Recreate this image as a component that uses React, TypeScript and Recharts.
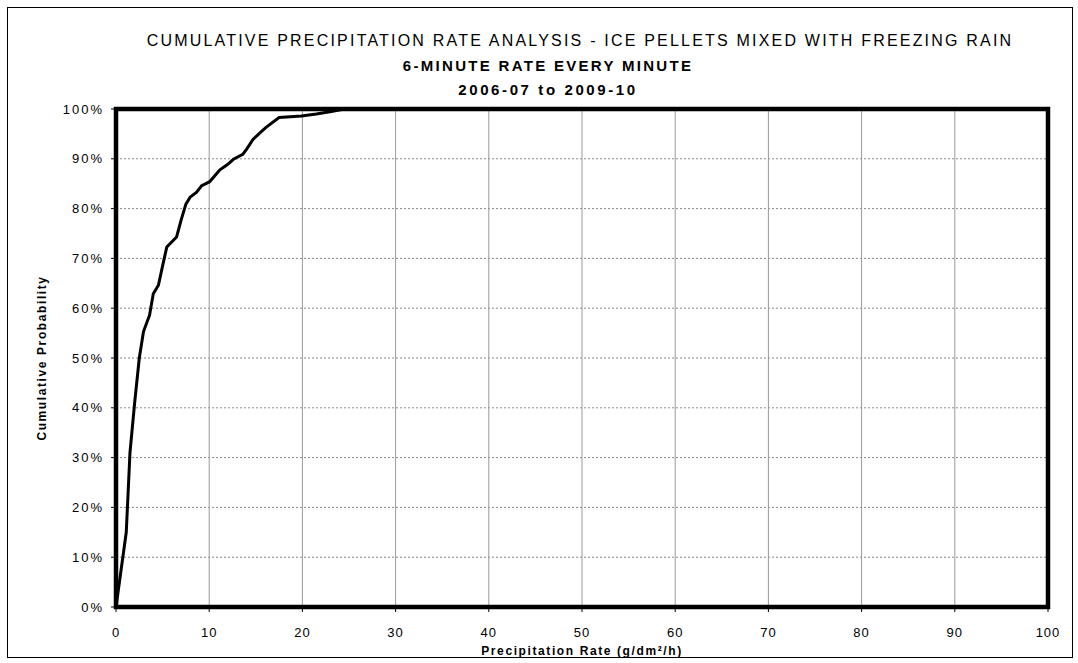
import React from "react";
import {
  LineChart,
  Line,
  XAxis,
  YAxis,
  CartesianGrid,
  ReferenceArea,
} from "recharts";

const titleLines = [
  "CUMULATIVE PRECIPITATION RATE ANALYSIS - ICE PELLETS MIXED WITH FREEZING RAIN",
  "6-MINUTE RATE EVERY MINUTE",
  "2006-07 to 2009-10",
];
const xAxisTitle = "Precipitation Rate (g/dm²/h)";
const yAxisTitle = "Cumulative Probability";

const rate = [
  0, 1.1, 1.5, 2.0, 2.5, 2.95, 3.6, 4.0, 4.55, 5.0, 5.45, 6.5, 7.0, 7.5, 7.95,
  8.65, 9.2, 10.05, 10.6, 11.15, 12.0, 12.6, 13.6, 14.0, 14.7, 15.5, 16.1,
  17.5, 19.9, 21.5, 23.1, 24.5,
];
const probability = [
  0, 15, 31, 41, 50, 55.3, 58.6, 62.9, 64.6, 68.5, 72.3, 74.3, 77.8, 80.9,
  82.3, 83.3, 84.6, 85.4, 86.6, 87.8, 88.9, 89.9, 90.9, 91.9, 93.9, 95.3, 96.3,
  98.3, 98.6, 99.0, 99.5, 100,
];
const xTicks = [0, 10, 20, 30, 40, 50, 60, 70, 80, 90, 100];
const yTicks = [0, 10, 20, 30, 40, 50, 60, 70, 80, 90, 100];

const data = rate.map((r, i) => ({ rate: r, prob: probability[i] }));

const FONT = "'Liberation Sans', Arial, Helvetica, sans-serif";

export default function App() {
  return (
    <div
      style={{
        position: "absolute",
        left: 7,
        top: 7,
        width: 1064,
        height: 649,
        border: "1px solid #000",
        background: "#fff",
        fontFamily: FONT,
      }}
    >
      <LineChart
        width={1064}
        height={649}
        data={data}
        margin={{ top: 101, right: 24, bottom: 20, left: 0 }}
      >
        <CartesianGrid
          horizontal={true}
          vertical={false}
          stroke="#8a8a8a"
          strokeDasharray="2 2"
        />
        <CartesianGrid
          horizontal={false}
          vertical={true}
          stroke="#9a9a9a"
        />
        <XAxis
          type="number"
          dataKey="rate"
          domain={[0, 100]}
          ticks={xTicks}
          interval={0}
          height={30}
          axisLine={false}
          tickLine={{ stroke: "#000" }}
          tickSize={5}
          tickMargin={16}
          tick={{
            fill: "#000",
            fontSize: 13,
            fontFamily: FONT,
            letterSpacing: 1,
          }}
        />
        <YAxis
          type="number"
          domain={[0, 100]}
          ticks={yTicks}
          interval={0}
          width={108}
          axisLine={false}
          tickLine={{ stroke: "#000" }}
          tickSize={5}
          tickMargin={7}
          tickFormatter={(v: number) => `${v}%`}
          tick={{
            fill: "#000",
            fontSize: 13,
            fontFamily: FONT,
            letterSpacing: 2,
          }}
        />
        <ReferenceArea
          x1={0}
          x2={100}
          y1={0}
          y2={100}
          fill="none"
          fillOpacity={0}
          stroke="#000"
          strokeWidth={4.5}
          ifOverflow="visible"
        />
        <Line
          type="linear"
          dataKey="prob"
          stroke="#000"
          strokeWidth={3}
          dot={false}
          activeDot={false}
          isAnimationActive={false}
        />
      </LineChart>
      <svg
        width={1064}
        height={649}
        style={{ position: "absolute", left: 0, top: 0, pointerEvents: "none" }}
      >
        <text
          x={572}
          y={37.8}
          textAnchor="middle"
          fontSize={16}
          fontFamily={FONT}
          letterSpacing={2.2}
          fill="#000"
        >
          {titleLines[0]}
        </text>
        <text
          x={540}
          y={62.7}
          textAnchor="middle"
          fontSize={15}
          fontWeight="bold"
          fontFamily={FONT}
          letterSpacing={2.3}
          fill="#000"
        >
          {titleLines[1]}
        </text>
        <text
          x={540}
          y={87.1}
          textAnchor="middle"
          fontSize={15}
          fontWeight="bold"
          fontFamily={FONT}
          letterSpacing={2.6}
          fill="#000"
        >
          {titleLines[2]}
        </text>
        <text
          x={574}
          y={647}
          textAnchor="middle"
          fontSize={12}
          fontWeight="bold"
          fontFamily={FONT}
          letterSpacing={1.6}
          fill="#000"
        >
          {xAxisTitle}
        </text>
        <text
          x={38}
          y={350}
          textAnchor="middle"
          fontSize={12}
          fontWeight="bold"
          fontFamily={FONT}
          letterSpacing={1.6}
          fill="#000"
          transform="rotate(-90 38 350)"
        >
          {yAxisTitle}
        </text>
      </svg>
    </div>
  );
}
